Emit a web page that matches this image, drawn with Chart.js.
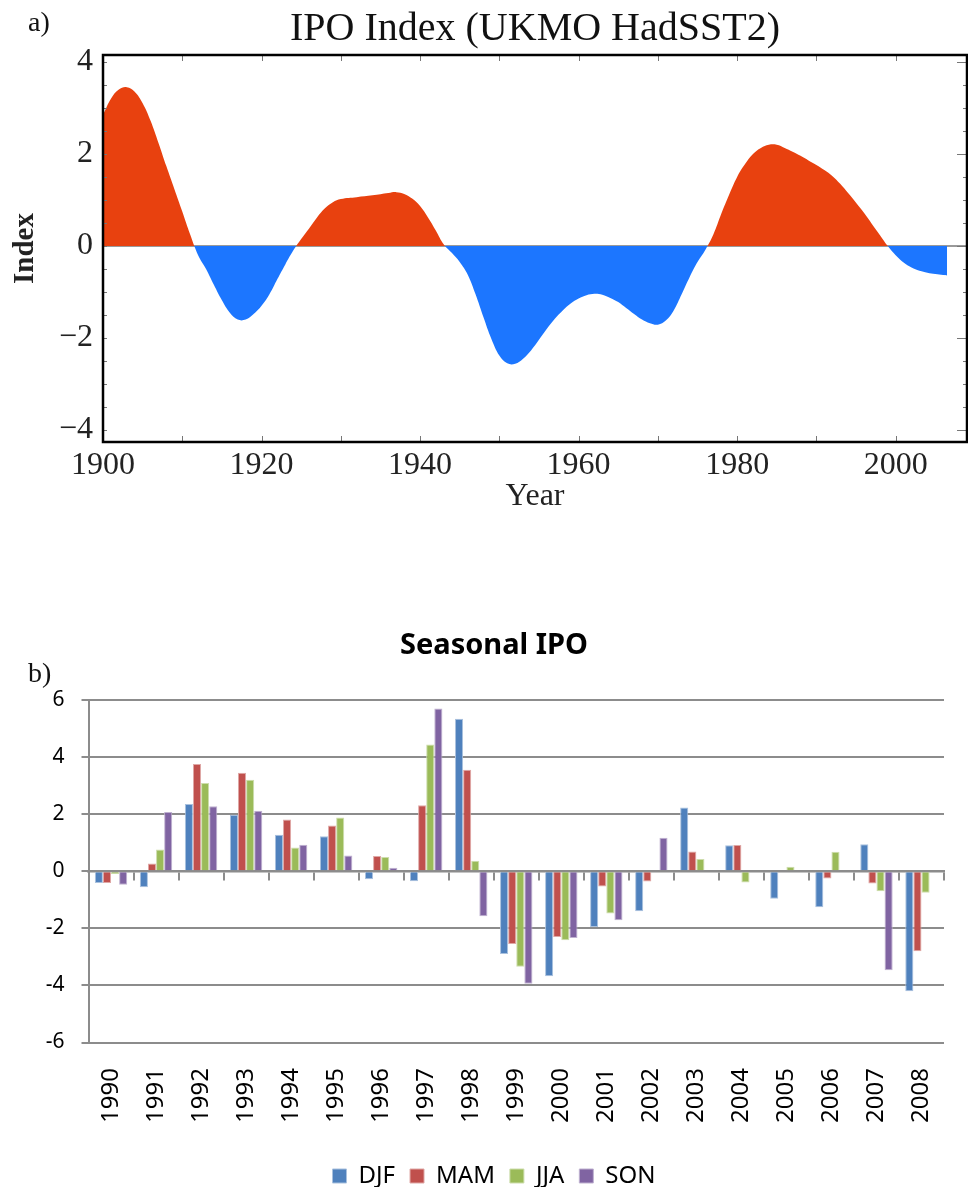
<!DOCTYPE html>
<html><head><meta charset="utf-8">
<script src="https://cdn.jsdelivr.net/npm/chart.js@4.4.1/dist/chart.umd.min.js"></script>
<style>
html,body{margin:0;padding:0;background:#fff;width:968px;height:1187px;overflow:hidden;}
#wrap{position:relative;width:968px;height:1187px;overflow:hidden;background:#fff;}
#ca{position:absolute;left:0;top:0;}
#cb{position:absolute;left:10px;top:590px;}
.lab{position:absolute;font-family:"Liberation Serif","Times New Roman",serif;font-size:28px;line-height:1;color:#111;}
</style></head><body>
<div id="wrap">
<canvas id="ca" width="968" height="520" style="width:968px;height:520px"></canvas>
<canvas id="cb" width="968" height="608" style="width:968px;height:608px"></canvas>
<div class="lab" style="left:28px;top:8px">a)</div>
<div class="lab" style="left:28px;top:659px">b)</div>
</div>
<script>
// ---------- Chart a) IPO Index data ----------
const ipoYear = [1900,1901,1902,1903,1904,1905,1906,1907,1908,1909,1910,1911,1912,1913,1914,1915,1916,1917,1918,1919,
  1920,1921,1922,1923,1924,1925,1926,1927,1928,1929,1930,1932,1934,1936,1937,1938,1939,1940,1941,1942,1943,
  1944,1945,1946,1947,1948,1949,1950,1951,1952,1953,1954,1955,1956,1957,1958,1959,1960,1961,1962,1963,1964,1965,
  1966,1967,1968,1969,1970,1971,1972,1973,1974,1975,1976,1977,1978,1979,1980,1981,1982,1983,1984,1985,1986,1987,
  1988,1989,1990,1991,1992,1993,1994,1995,1996,1997,1998,1999,2000,2001,2002,2003,2004,2005,2006,2006.5];
const ipoValue = [2.85,3.2,3.4,3.45,3.35,3.1,2.72,2.24,1.73,1.24,0.75,0.25,-0.2,-0.5,-0.85,-1.18,-1.45,-1.6,-1.6,-1.48,
  -1.3,-1.05,-0.72,-0.4,-0.1,0.15,0.38,0.62,0.82,0.95,1.02,1.06,1.1,1.15,1.17,1.13,1.03,0.87,0.62,0.33,0.03,
  -0.15,-0.35,-0.62,-1.05,-1.55,-2.02,-2.38,-2.55,-2.56,-2.45,-2.27,-2.04,-1.8,-1.58,-1.4,-1.25,-1.14,-1.07,-1.04,-1.06,-1.13,-1.22,
  -1.35,-1.48,-1.6,-1.68,-1.71,-1.62,-1.4,-1.05,-0.68,-0.35,-0.08,0.25,0.7,1.12,1.5,1.78,2.0,2.13,2.2,2.2,2.13,2.05,
  1.96,1.86,1.76,1.65,1.52,1.35,1.15,0.94,0.72,0.48,0.24,0.0,-0.2,-0.36,-0.47,-0.54,-0.58,-0.61,-0.63,-0.64];
const yearTicks = [1900,1920,1940,1960,1980,2000];
const indexTicks = [-4,-2,0,2,4];

// ---------- Chart b) Seasonal IPO data ----------
const seasonYears = ['1990','1991','1992','1993','1994','1995','1996','1997','1998','1999','2000','2001','2002','2003','2004','2005','2006','2007','2008'];
const djf = [-0.41,-0.56,2.36,1.98,1.28,1.23,-0.28,-0.35,5.34,-2.9,-3.68,-1.95,-1.4,2.23,0.91,-0.96,-1.26,0.95,-4.2];
const mam = [-0.41,0.27,3.76,3.45,1.81,1.6,0.53,2.31,3.56,-2.55,-2.3,-0.53,-0.36,0.69,0.92,0,-0.25,-0.43,-2.8];
const jja = [-0.1,0.76,3.09,3.21,0.83,1.88,0.5,4.44,0.37,-3.35,-2.42,-1.48,0,0.43,-0.39,0.16,0.68,-0.7,-0.75];
const son = [-0.47,2.08,2.28,2.12,0.93,0.55,0.12,5.7,-1.58,-3.94,-2.34,-1.72,1.17,0,0,0,0,-3.47,0];
const seasonTicks = [-6,-4,-2,0,2,4,6];

const SERIF = '"Liberation Serif","Times New Roman",serif';
const SANS = '"Noto Sans","Open Sans",sans-serif';

const frameA = {
  id: 'frameA',
  afterDatasetsDraw(chart) {
    const {ctx, chartArea: a, scales: {x, y}} = chart;
    ctx.save();
    ctx.strokeStyle = '#777';
    ctx.lineWidth = 1;
    ctx.beginPath();
    for (let v = 1910; v <= 2000; v += 10) {
      const px = Math.round(x.getPixelForValue(v)) + 0.5;
      ctx.moveTo(px, a.top); ctx.lineTo(px, a.top + 6);
      ctx.moveTo(px, a.bottom); ctx.lineTo(px, a.bottom - 6);
    }
    for (let v = -4; v <= 4; v += 0.5) {
      const py = Math.round(y.getPixelForValue(v)) + 0.5;
      ctx.moveTo(a.left, py); ctx.lineTo(a.left + 4, py);
      const len = (v % 2 === 0) ? 10 : 4;
      ctx.moveTo(a.right, py); ctx.lineTo(a.right - len, py);
    }
    ctx.stroke();
    ctx.strokeStyle = '#000';
    ctx.lineWidth = 2.5;
    ctx.strokeRect(a.left, a.top, a.right - a.left, a.bottom - a.top);
    ctx.restore();
  }
};

new Chart(document.getElementById('ca'), {
  type: 'line',
  data: {
    datasets: [{
      data: ipoYear.map((yr, i) => ({x: yr, y: ipoValue[i]})),
      borderWidth: 0,
      borderColor: 'rgba(0,0,0,0)',
      pointRadius: 0,
      tension: 0.4,
      fill: {target: 'origin', above: '#E8410F', below: '#1C76FF'}
    }]
  },
  options: {
    responsive: false,
    animation: false,
    layout: {padding: {left: 0, right: 1, top: 0, bottom: 0}},
    plugins: {
      legend: {display: false},
      tooltip: {enabled: false},
      title: {display: true, text: 'IPO Index (UKMO HadSST2)', fullSize: false, color: '#111',
        font: {family: SERIF, size: 40, weight: 'normal'}, padding: {top: 5, bottom: 2}}
    },
    scales: {
      x: {
        type: 'linear', min: 1900, max: 2009,
        afterBuildTicks: s => { s.ticks = yearTicks.map(v => ({value: v})); },
        afterFit: s => { s.height = 78; },
        grid: {display: false, drawTicks: false},
        border: {display: false},
        ticks: {padding: 4, color: '#222', font: {family: SERIF, size: 32}, callback: v => String(v), maxRotation: 0, autoSkip: false},
        title: {display: true, text: 'Year', color: '#222', font: {family: SERIF, size: 32}, padding: {top: 0, bottom: 4}}
      },
      y: {
        min: -4.26, max: 4.15,
        afterBuildTicks: s => { s.ticks = indexTicks.map(v => ({value: v})); },
        afterFit: s => { s.width = 103; },
        grid: {drawTicks: false, lineWidth: 2, color: c => (c.tick && c.tick.value === 0) ? '#9a9a9a' : 'rgba(0,0,0,0)'},
        border: {display: false},
        ticks: {padding: 10, color: '#222', font: {family: SERIF, size: 32}, callback: v => v < 0 ? '\u2212' + Math.abs(v) : String(v)},
        title: {display: true, text: 'Index', color: '#222', font: {family: SERIF, size: 29, weight: 'bold'}, padding: {top: 8, bottom: 0}}
      }
    }
  },
  plugins: [frameA]
});

new Chart(document.getElementById('cb'), {
  type: 'bar',
  data: {
    labels: seasonYears,
    datasets: [
      {label: 'DJF', data: djf, backgroundColor: '#4F81BD', borderColor: '#A9C1DE'},
      {label: 'MAM', data: mam, backgroundColor: '#C0504D', borderColor: '#DFA8A6'},
      {label: 'JJA', data: jja, backgroundColor: '#9BBB59', borderColor: '#CDDDAC'},
      {label: 'SON', data: son, backgroundColor: '#8064A2', borderColor: '#BFB1D0'}
    ]
  },
  options: {
    responsive: false,
    animation: false,
    datasets: {bar: {categoryPercentage: 0.72, barPercentage: 1.0, borderWidth: 1}},
    layout: {padding: {left: 34, right: 34, top: 0, bottom: 0}},
    plugins: {
      tooltip: {enabled: false},
      title: {display: true, text: 'Seasonal IPO', color: '#000', font: {family: SANS, size: 29, weight: 'bold'}, padding: {top: 38.6, bottom: 36.6}},
      legend: {position: 'bottom', labels: {boxWidth: 14, boxHeight: 14, padding: 15, color: '#000', font: {family: SANS, size: 24}}}
    },
    scales: {
      x: {
        grid: {display: false, drawTicks: false},
        border: {display: false},
        ticks: {minRotation: 90, maxRotation: 90, autoSkip: false, padding: 25.5, color: '#000', font: {family: SANS, size: 24}},
        afterFit: s => { s.height = 106.5; }
      },
      x2: {
        type: 'category',
        position: {y: 0},
        offset: true,
        grid: {display: true, drawOnChartArea: false, drawTicks: true, tickLength: 8, color: '#8c8c8c', lineWidth: 2, offset: true},
        border: {display: true, color: '#8c8c8c', width: 2.5},
        ticks: {display: false}
      },
      y: {
        min: -6, max: 6,
        afterBuildTicks: s => { s.ticks = seasonTicks.map(v => ({value: v})); },
        afterFit: s => { s.width = 44.5; },
        grid: {color: '#8c8c8c', lineWidth: 2, tickLength: 7},
        border: {display: true, color: '#8c8c8c', width: 2},
        ticks: {padding: 17, color: '#000', font: {family: SANS, size: 21}}
      }
    }
  }
});
</script>
</body></html>
